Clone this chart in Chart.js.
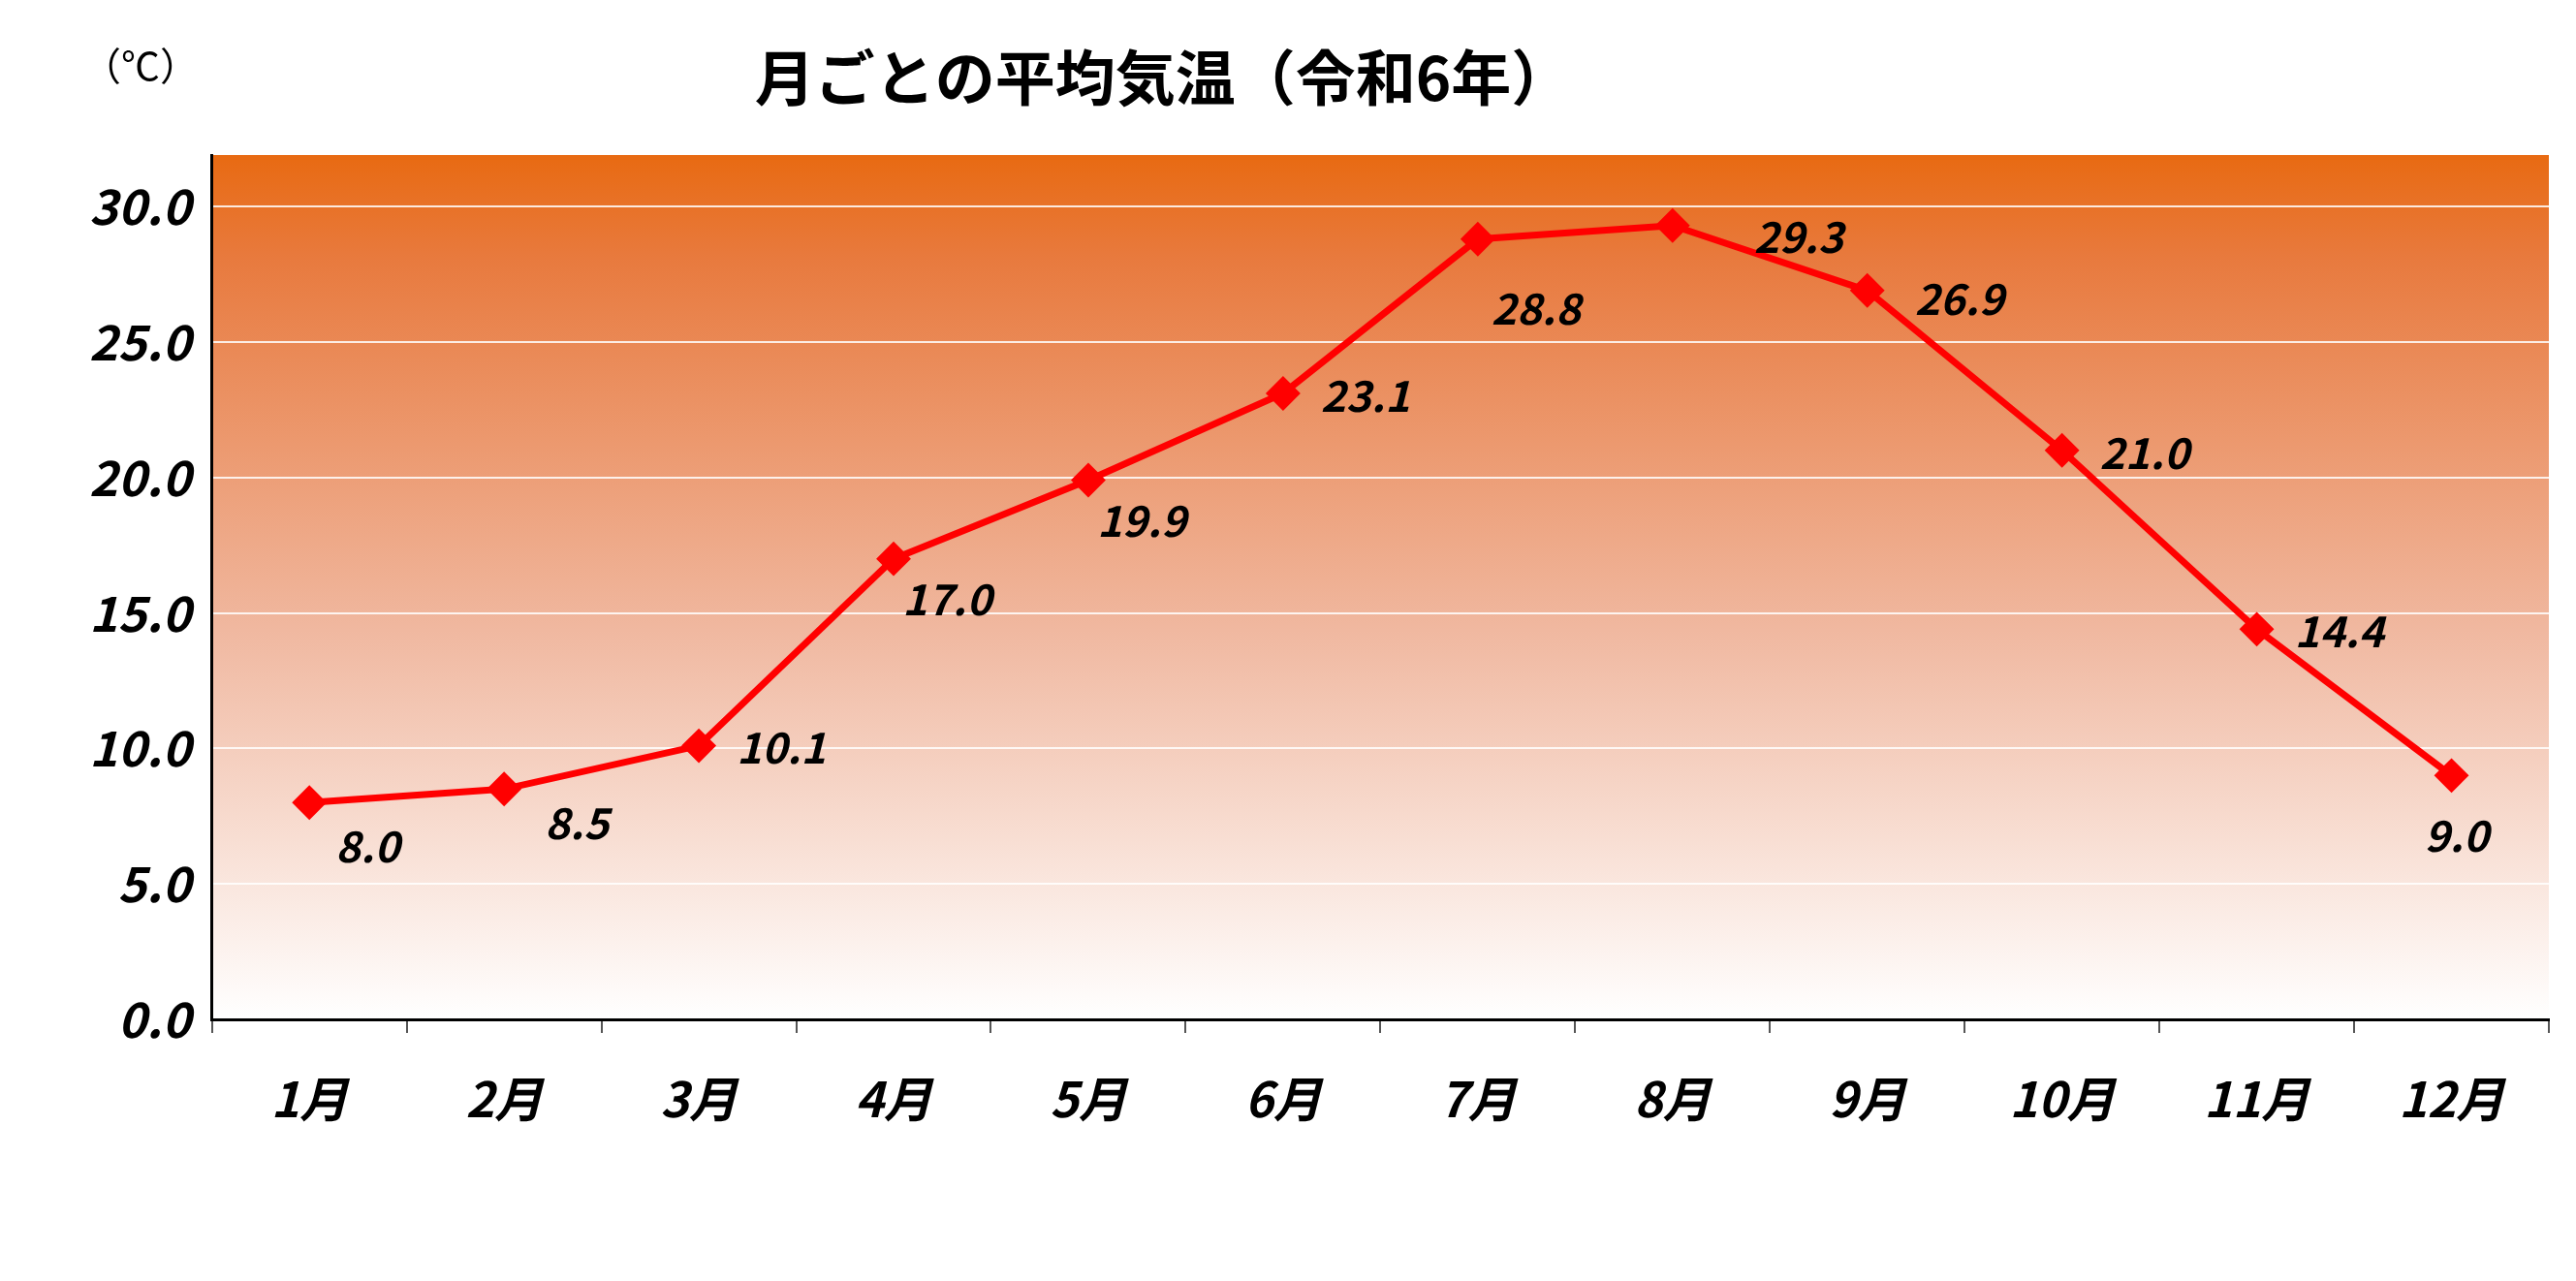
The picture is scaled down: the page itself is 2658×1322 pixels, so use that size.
<!DOCTYPE html>
<html><head><meta charset="utf-8">
<script src="https://cdn.jsdelivr.net/npm/chart.js@4"></script>
<style>html,body{margin:0;padding:0;background:#fff}#w{position:relative;width:2658px;height:1322px}</style>
</head><body><div id="w"><canvas id="c" width="2658" height="1322" style="width:2658px;height:1322px"></canvas></div>
<script>
const months = ['1月','2月','3月','4月','5月','6月','7月','8月','9月','10月','11月','12月'];
const temps = [8.0,8.5,10.1,17.0,19.9,23.1,28.8,29.3,26.9,21.0,14.4,9.0];
const yTicks = [0,5,10,15,20,25,30];
const FONT = '"Noto Sans CJK JP", sans-serif';

const deco = {
  id:'deco',
  beforeDraw(ch){
    const {ctx, chartArea:a} = ch;
    const g = ctx.createLinearGradient(0,a.top,0,a.bottom);
    g.addColorStop(0,'#E86A12'); g.addColorStop(0.12,'#E87A3E');
    g.addColorStop(0.55,'#F0B8A0'); g.addColorStop(1,'#FFFFFF');
    ctx.save(); ctx.fillStyle=g; ctx.fillRect(a.left,a.top,a.right-a.left,a.bottom-a.top); ctx.restore();
  },
  afterDraw(ch){
    const {ctx} = ch;
    ctx.save();
    ctx.fillStyle='#000';
    ctx.font='bold 62px '+FONT; ctx.textAlign='center'; ctx.textBaseline='middle';
    ctx.fillText('月ごとの平均気温（令和6年）',1200,80);
    ctx.font='40px '+FONT; ctx.fillText('（℃）',145,68);
    const meta = ch.getDatasetMeta(0);
    ctx.font='italic bold 44px '+FONT;
    meta.data.forEach((p,i)=>{
      let dx=55, dy=42;
      if(i===7){dx=130;dy=12;}
      if(i===11){dx=5;dy=62;}
      if(i===8){dx=95;dy=8;}
      if(i===9||i===10||i===5||i===2){dx=85;dy=2;}
      if(i===6){dx=60;dy=72;}
      if(i===0){dx=60;dy=45;}
      if(i===1){dx=75;dy=35;}
      ctx.textAlign='center';
      ctx.fillText(temps[i].toFixed(1),p.x+dx,p.y+dy);
    });
    ctx.restore();
  }
};

new Chart(document.getElementById('c'),{
  type:'line',
  data:{labels:months,datasets:[{data:temps,borderColor:'#FF0000',borderWidth:7,
    pointStyle:'rectRot',pointRadius:13,pointBackgroundColor:'#FF0000',pointBorderColor:'#FF0000',tension:0}]},
  options:{
    responsive:false, animation:false, devicePixelRatio:1,
    layout:{padding:{top:160,right:28,left:70,bottom:120}},
    plugins:{legend:{display:false},tooltip:{enabled:false}},
    scales:{
      x:{offset:true,
        grid:{offset:true,drawOnChartArea:false,drawTicks:true,tickLength:14,color:'#555',lineWidth:2},
        border:{color:'#000',width:3},
        ticks:{color:'#000',font:{family:FONT,size:50,weight:'bold',style:'italic'},padding:38}},
      y:{min:0,max:31.9,
        afterBuildTicks(s){s.ticks=yTicks.map(v=>({value:v}));},
        grid:{color:'rgba(255,255,255,0.85)',lineWidth:2,drawTicks:false},
        border:{color:'#000',width:3},
        ticks:{color:'#000',font:{family:FONT,size:50,weight:'bold',style:'italic'},padding:22,
          callback:v=>Number(v).toFixed(1)}}
    }
  },
  plugins:[deco]
});
</script></body></html>
